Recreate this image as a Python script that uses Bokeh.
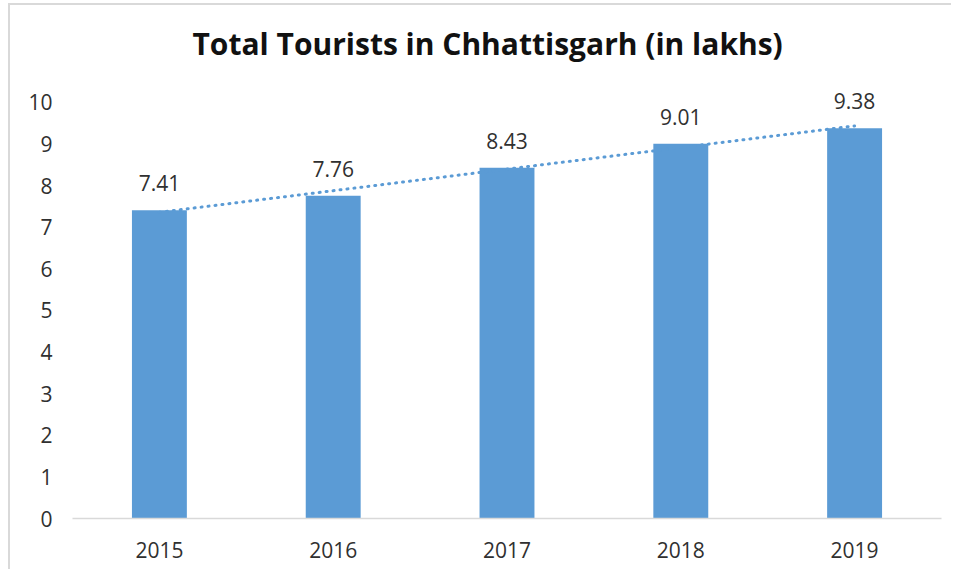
import numpy as np
from bokeh.plotting import figure
from bokeh.models import FixedTicker, Range1d, ColumnDataSource, InlineStyleSheet
from bokeh.core.properties import value
from bokeh.embed import file_html
from bokeh.resources import INLINE

years = ["2015", "2016", "2017", "2018", "2019"]
tourists = [7.41, 7.76, 8.43, 9.01, 9.38]
labels = ["7.41", "7.76", "8.43", "9.01", "9.38"]
y_ticks = [0, 1, 2, 3, 4, 5, 6, 7, 8, 9, 10]

# Linear trendline (as Excel draws it) fitted to the data
idx = np.arange(len(tourists))
slope, intercept = np.polyfit(idx, tourists, 1)
trend = list(slope * idx + intercept)

BAR = "#5B9BD5"
TXT = "#303030"
FONT = "Open Sans"

p = figure(
    x_range=years,
    y_range=Range1d(0, 10.6),
    width=951,
    height=569,
    output_backend="svg",
    toolbar_location=None,
    title="Total Tourists in Chhattisgarh (in lakhs)",
    min_border_left=72,
    min_border_right=10,
    min_border_top=77,
    min_border_bottom=51,
)
p.x_range.range_padding = 0

src = ColumnDataSource(dict(years=years, tourists=tourists, labels=labels, trend=trend))

p.vbar(x="years", top="tourists", width=0.316, source=src, fill_color=BAR, line_color=None)
p.line(x="years", y="trend", source=src, line_color=BAR, line_width=3,
       line_dash="1 6", line_cap="round")
p.text(x="years", y="tourists", text="labels", source=src,
       text_font=value(FONT), text_font_size="21px", text_color=TXT,
       text_align="center", text_baseline="alphabetic", y_offset=-27)

# Title
p.title.text_font = FONT
p.title.text_font_size = "30px"
p.title.text_font_style = "bold"
p.title.text_color = "#111111"
p.title.align = "left"
p.title.offset = 120
p.title.standoff = 27

# Axes
p.xaxis.axis_line_color = "#D9D9D9"
p.xaxis.axis_line_width = 1.5
p.xaxis.major_tick_line_color = None
p.xaxis.minor_tick_line_color = None
p.xaxis.major_label_text_font = FONT
p.xaxis.major_label_text_font_size = "21px"
p.xaxis.major_label_text_color = TXT
p.xaxis.major_label_standoff = 17

p.yaxis.ticker = FixedTicker(ticks=y_ticks)
p.yaxis.axis_line_color = None
p.yaxis.major_tick_line_color = None
p.yaxis.minor_tick_line_color = None
p.yaxis.major_label_text_font = FONT
p.yaxis.major_label_text_font_size = "21px"
p.yaxis.major_label_text_color = TXT
p.yaxis.major_label_standoff = 14

p.xgrid.grid_line_color = None
p.ygrid.grid_line_color = None
p.outline_line_color = None
p.background_fill_color = "white"
p.border_fill_color = "white"

p.stylesheets = [InlineStyleSheet(css=(
    ":host::after { content: ''; position: absolute; left: 8px; top: 3px; "
    "right: 0; bottom: 0; border-left: 2px solid #D9D9D9; "
    "border-top: 2px solid #D9D9D9; pointer-events: none; }"
))]

open("out.html", "w").write(file_html(p, INLINE))
